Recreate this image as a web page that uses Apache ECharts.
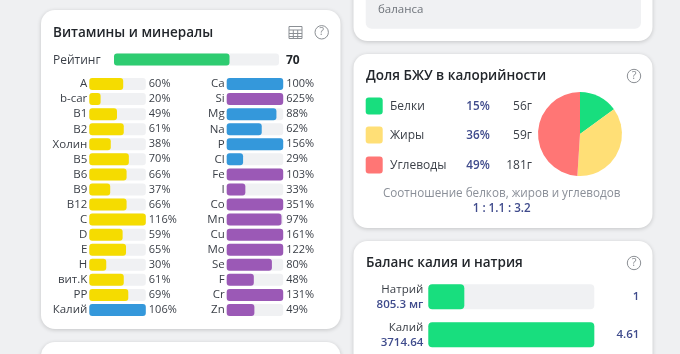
<!DOCTYPE html>
<html>
<head>
<meta charset="utf-8">
<style>
  html, body { margin:0; padding:0; background:#eff0f2; }
  #chart { width:680px; height:354px; }
</style>
<script src="https://cdn.jsdelivr.net/npm/echarts@6/dist/echarts.min.js"></script>
</head>
<body>
<div id="chart"></div>
<script>
// --- data
const vitNames = ["A", "b-car", "B1", "B2", "Холин", "B5", "B6", "B9", "B12", "C", "D", "E", "H", "вит.K", "PP", "Калий"];
const vitValues = [60, 20, 49, 61, 38, 70, 66, 37, 66, 116, 59, 65, 30, 61, 69, 106];
const minNames = ["Ca", "Si", "Mg", "Na", "P", "Cl", "Fe", "I", "Co", "Mn", "Cu", "Mo", "Se", "F", "Cr", "Zn"];
const minValues = [100, 625, 88, 62, 156, 29, 103, 33, 351, 97, 161, 122, 80, 48, 131, 49];
const blueMinerals = ["Ca", "Mg", "Na", "P", "Cl"];
const rating = 70;
const bjuNames = ["Белки", "Жиры", "Углеводы"];
const bjuPercent = [15, 36, 49];
const bjuGrams = [56, 59, 181];
const balanceNames = ["Натрий", "Калий"];
const balanceAmounts = ["805.3 мг", "3714.64"];
const balanceRatio = [1, 4.61];

const FONT = '"Open Sans", "Noto Sans", sans-serif';
const TEXT = "#3a3f47", DARK = "#22262b", NAVY = "#3f4b8c", GREY = "#8a8f98", TRACK = "#f0f1f3";
const YELLOW = "#f5dc00", BLUE = "#3498db", PURPLE = "#9b59b6";
const bjuColors = ["#18de7e", "#ffdf76", "#ff7675"];

const chart = echarts.init(document.getElementById("chart"));

// one small percent bar column: two y axes, names left and percent right
function column(top, left, width, names, values, colorOf) {
  const gi = grids.length;
  grids.push({ left, width, top, height: 241 });
  xAxes.push({ gridIndex: gi, type: "value", min: 0, max: 100, show: false });
  yAxes.push({
    gridIndex: gi, type: "category", inverse: true, data: names, position: "left",
    axisLine: { show: false }, axisTick: { show: false },
    axisLabel: { interval: 0, margin: 2, padding: [2, 0, 0, 0], color: TEXT, fontFamily: FONT, fontSize: 11.5 },
  });
  yAxes.push({
    gridIndex: gi, type: "category", inverse: true, data: values.map((v) => v + "%"), position: "right",
    axisLine: { show: false }, axisTick: { show: false },
    axisLabel: { interval: 0, margin: 3, padding: [2, 0, 0, 0], color: TEXT, fontFamily: FONT, fontSize: 11 },
  });
  series.push({
    type: "bar", xAxisIndex: xAxes.length - 1, yAxisIndex: yAxes.length - 2, barWidth: 12,
    showBackground: true, backgroundStyle: { color: TRACK, borderRadius: 3 }, silent: true,
    itemStyle: { borderRadius: 3 },
    data: values.map((v, i) => ({ value: Math.min(v, 100), itemStyle: { color: colorOf(names[i]) } })),
  });
}

const grids = [], xAxes = [], yAxes = [], series = [];

column(76.5, 89.3, 56.5, vitNames, vitValues, (n) => (n === "Калий" ? BLUE : YELLOW));
column(76.5, 226.7, 56.5, minNames, minValues, (n) => (blueMinerals.includes(n) ? BLUE : PURPLE));

// rating bar
grids.push({ left: 114, width: 165, top: 53.5, height: 12 });
xAxes.push({ gridIndex: 2, type: "value", min: 0, max: 100, show: false });
yAxes.push({ gridIndex: 2, type: "category", data: ["Рейтинг"], axisLine: { show: false }, axisTick: { show: false },
  axisLabel: { show: false } });
series.push({
  type: "bar", xAxisIndex: 2, yAxisIndex: 4, barWidth: 12, silent: true, data: [rating],
  showBackground: true, backgroundStyle: { color: TRACK, borderRadius: 3 },
  itemStyle: { color: "#2ecc71", borderRadius: 3 },
});

// potassium / sodium bars
grids.push({ left: 428.3, width: 166, top: 277.8, height: 76 });
xAxes.push({ gridIndex: 3, type: "value", min: 0, max: 4.61, show: false });
yAxes.push({
  gridIndex: 3, type: "category", inverse: true, data: balanceNames,
  axisLine: { show: false }, axisTick: { show: false },
  axisLabel: {
    interval: 0, margin: 5, align: "right",
    formatter: (n, i) => `{n|${n}}\n{v|${balanceAmounts[i]}}`,
    rich: {
      n: { color: TEXT, fontFamily: FONT, fontSize: 11.5, lineHeight: 15, align: "right" },
      v: { color: NAVY, fontFamily: FONT, fontSize: 11.5, fontWeight: 600, lineHeight: 15, align: "right" },
    },
  },
});
yAxes.push({
  gridIndex: 3, type: "category", inverse: true, position: "right", data: balanceRatio.map(String),
  axisLine: { show: false }, axisTick: { show: false },
  axisLabel: { interval: 0, margin: 45, width: 45, overflow: "none", align: "right", color: NAVY, fontFamily: FONT, fontSize: 11.5, fontWeight: 600 },
});
series.push({
  type: "bar", xAxisIndex: 3, yAxisIndex: 5, barWidth: 25, silent: true, data: balanceRatio,
  showBackground: true, backgroundStyle: { color: TRACK, borderRadius: 4 },
  itemStyle: { color: "#18de7e", borderRadius: 4 },
});

series.push({
  type: "pie", center: [580, 134], radius: [0, 42], startAngle: 90, silent: true,
  label: { show: false }, labelLine: { show: false },
  data: bjuNames.map((name, i) => ({ name, value: bjuPercent[i], itemStyle: { color: bjuColors[i] } })),
});

// --- page furniture
function card(x, y, w, h) {
  return { type: "rect", z: -10, shape: { x, y, width: w, height: h, r: 14 },
    style: { fill: "#fff", shadowBlur: 4, shadowOffsetY: 1, shadowColor: "rgba(0,0,0,0.18)" } };
}
function txt(x, y, text, fill, size, weight, align) {
  return { type: "text", z: 5, x, y: y + 1, style: { text, fill, fontFamily: FONT, fontSize: size, fontWeight: weight || 400,
    align: align || "left", verticalAlign: "middle" } };
}
function help(cx, cy) {
  return [
    { type: "circle", z: 5, shape: { cx, cy, r: 6.7 }, style: { fill: "none", stroke: "#8b8f94", lineWidth: 1 } },
    txt(cx, cy - 1, "?", "#8b8f94", 11, 400, "center"),
  ];
}
function tableIcon(x, y) {
  const lines = [[x, y + 3.5, x + 13, y + 3.5], [x, y + 7, x + 13, y + 7], [x, y + 10, x + 13, y + 10], [x + 4.3, y + 3.5, x + 4.3, y + 12], [x + 8.7, y + 3.5, x + 8.7, y + 12]];
  return [{ type: "rect", z: 5, shape: { x, y, width: 13, height: 12 }, style: { fill: "none", stroke: "#8b8f94", lineWidth: 1 } }]
    .concat(lines.map(([x1, y1, x2, y2]) => ({ type: "line", z: 5, shape: { x1, y1, x2, y2 }, style: { stroke: "#8b8f94", lineWidth: 1 } })));
}

const rowY = [106, 135, 165];
const elements = [
  card(41, 10, 299.5, 319),
  card(41, 342, 299.5, 60),
  card(353.5, -40, 299, 81),
  card(353.5, 54, 299, 174),
  card(353.5, 241, 299, 160),
  { type: "rect", z: -5, shape: { x: 365.7, y: -20, width: 275.3, height: 48.7, r: 6 }, style: { fill: "#f0f1f3" } },
  txt(378, 8.5, "баланса", "#6f747b", 11.5),
  txt(53, 32.5, "Витамины и минералы", DARK, 13.5, 600),
  txt(53, 59.5, "Рейтинг", TEXT, 12),
  txt(286, 59.5, String(rating), DARK, 12, 700),
  txt(366, 75.5, "Доля БЖУ в калорийности", DARK, 13.5, 600),
  txt(366, 262.5, "Баланс калия и натрия", DARK, 13.5, 600),
  txt(501.7, 192.5, "Соотношение белков, жиров и углеводов", GREY, 11.7, 400, "center"),
  txt(501.7, 207.5, "1 : 1.1 : 3.2", NAVY, 11.6, 600, "center"),
]
  .concat(tableIcon(289, 26.5), help(321.7, 32.3), help(634, 76), help(634, 263));

bjuNames.forEach((n, i) => {
  elements.push(
    { type: "rect", z: 5, shape: { x: 365.7, y: rowY[i] - 8.5, width: 17, height: 17, r: 3 }, style: { fill: bjuColors[i] } },
    txt(390, rowY[i] - 0.5, n, TEXT, 12),
    txt(478, rowY[i] - 0.5, bjuPercent[i] + "%", NAVY, 11.7, 600, "center"),
    txt(532, rowY[i] - 0.5, bjuGrams[i] + "г", TEXT, 12, 400, "right")
  );
});

chart.setOption({
  animation: false,
  backgroundColor: "#eff0f2",
  grid: grids,
  xAxis: xAxes,
  yAxis: yAxes,
  series,
  graphic: { elements },
});
</script>
</body>
</html>
